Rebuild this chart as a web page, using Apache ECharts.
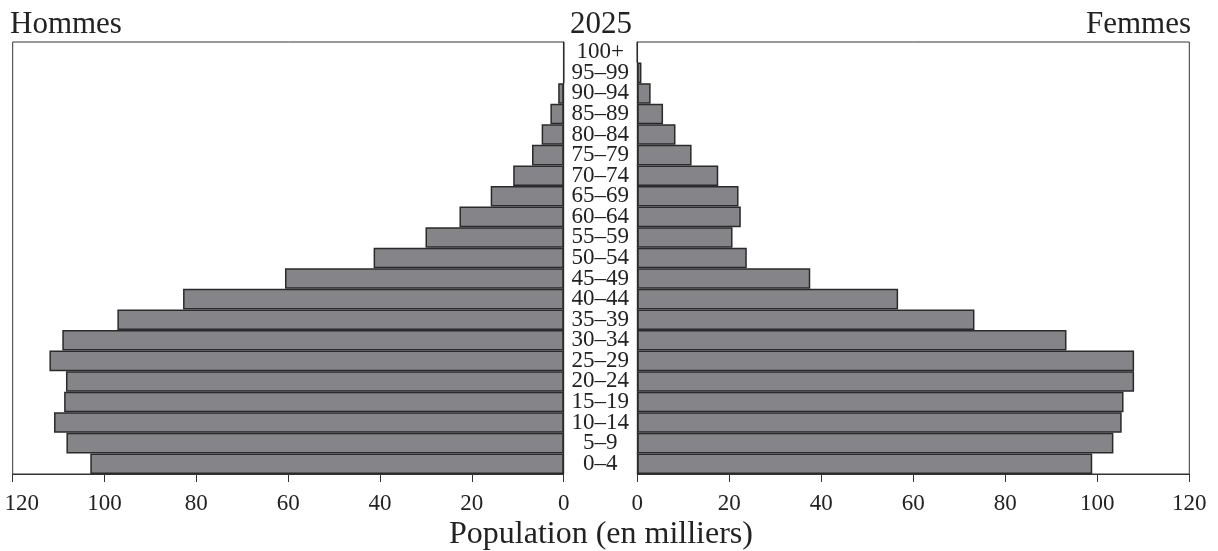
<!DOCTYPE html>
<html>
<head>
<meta charset="utf-8">
<script src="https://cdn.jsdelivr.net/npm/echarts@6/dist/echarts.min.js"></script>
<style>
html,body{margin:0;padding:0;background:#fff;}
#chart{width:1218px;height:551px;}
</style>
</head>
<body>
<div id="chart"></div>
<script>
// Age groups, bottom to top
const ageGroups = ['0–4','5–9','10–14','15–19','20–24','25–29','30–34','35–39','40–44','45–49','50–54','55–59','60–64','65–69','70–74','75–79','80–84','85–89','90–94','95–99','100+'];
// Population in thousands
const men   = [103.1,108.3,111.0,108.8,108.4,112.0,109.2,97.2,82.9,60.7,41.4,30.1,22.7,15.9,11.0,6.9,4.8,2.9,1.2,0,0];
const women = [98.9,103.5,105.3,105.7,108.0,108.0,93.3,73.3,56.7,37.6,23.8,20.7,22.5,22.0,17.6,11.8,8.3,5.6,2.9,0.9,0];
const xTicks = { min: 0, max: 120, interval: 20 };
const yearLabel = '2025';
const leftTitle = 'Hommes';
const rightTitle = 'Femmes';
const xAxisTitle = 'Population (en milliers)';

const FONT = '"Liberation Serif", "DejaVu Serif", serif';
const TXT = '#222';
const chart = echarts.init(document.getElementById('chart'));

function axisCfg(extra, isLeft) {
  return Object.assign({
    type: 'value', min: xTicks.min, max: xTicks.max, interval: xTicks.interval,
    axisLine: { show: true, lineStyle: { color: '#333', width: 1 } },
    axisTick: { show: true, length: 8, lineStyle: { color: '#333', width: 1 } },
    axisLabel: {
      fontFamily: FONT, fontSize: 23, color: TXT, margin: 18, showMinLabel: true, showMaxLabel: true,
      formatter: function (v) { return (isLeft && v === xTicks.max) ? '{edge|' + v + '}' : String(v); },
      rich: { edge: { fontFamily: FONT, fontSize: 23, color: TXT, padding: [0, 0, 0, 18] } }
    },
    splitLine: { show: false }
  }, extra);
}
const barStyle = { color: '#848489', borderColor: '#2a2a2a', borderWidth: 1.5 };

chart.setOption({
  animation: false,
  backgroundColor: '#fff',
  grid: [
    { left: 12.7, right: 1218 - 563.7, top: 42, bottom: 77, show: true, borderColor: '#333', borderWidth: 1, outerBoundsMode: 'none', containLabel: false },
    { left: 637.3, right: 1218 - 1189.3, top: 42, bottom: 77, show: true, borderColor: '#333', borderWidth: 1, outerBoundsMode: 'none', containLabel: false }
  ],
  xAxis: [
    axisCfg({ gridIndex: 0, inverse: true }, true),
    axisCfg({ gridIndex: 1 }, false)
  ],
  yAxis: [
    { type: 'category', gridIndex: 0, data: ageGroups, position: 'right',
      axisLine: { show: true, lineStyle: { color: '#333' } }, axisTick: { show: false }, axisLabel: { show: false } },
    { type: 'category', gridIndex: 1, data: ageGroups, position: 'left',
      axisLine: { show: true, lineStyle: { color: '#333' } }, axisTick: { show: false },
      axisLabel: { show: true, interval: 0, align: 'center', margin: 37, padding: [4, 0, 0, 0], fontFamily: FONT, fontSize: 23, color: TXT } }
  ],
  series: [
    { type: 'bar', xAxisIndex: 0, yAxisIndex: 0, data: men, barCategoryGap: 0, itemStyle: barStyle, silent: true },
    { type: 'bar', xAxisIndex: 1, yAxisIndex: 1, data: women, barCategoryGap: 0, itemStyle: barStyle, silent: true }
  ],
  graphic: [
    { type: 'text', x: 10, y: 9, style: { text: leftTitle, font: '31px ' + FONT, fill: TXT } },
    { type: 'text', x: 1191, y: 9, style: { text: rightTitle, font: '31px ' + FONT, fill: TXT, align: 'right' } },
    { type: 'text', x: 601, y: 9, style: { text: yearLabel, font: '31px ' + FONT, fill: TXT, align: 'center' } },
    { type: 'text', x: 601, y: 519, style: { text: xAxisTitle, font: '32px ' + FONT, fill: TXT, align: 'center' } }
  ]
});
</script>
</body>
</html>
